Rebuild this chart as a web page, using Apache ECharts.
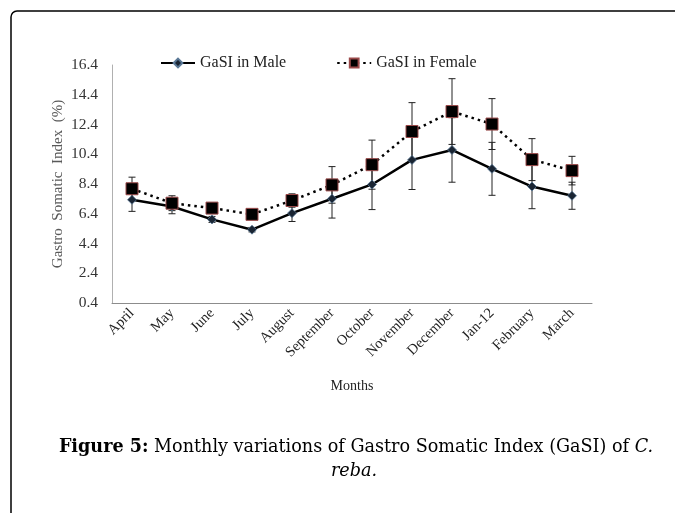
<!DOCTYPE html>
<html>
<head>
<meta charset="utf-8">
<script src="https://cdn.jsdelivr.net/npm/echarts@6/dist/echarts.min.js"></script>
<style>
html,body{margin:0;padding:0;background:#fff;}
#chart{width:675px;height:513px;}
</style>
</head>
<body>
<div id="chart"></div>
<script>
const months = ['April','May','June','July','August','September','October','November','December','Jan-12','February','March'];
const maleValues = [7.34, 6.89, 6.02, 5.33, 6.44, 7.41, 8.37, 10.02, 10.69, 9.42, 8.23, 7.61];
const femaleValues = [8.08, 7.11, 6.78, 6.36, 7.29, 8.34, 9.70, 11.93, 13.27, 12.43, 10.04, 9.30];
const maleErrors = [0.78, 0.49, 0.2, 0.15, 0.56, 1.3, 1.69, 1.99, 2.17, 1.78, 1.49, 0.91];
const femaleErrors = [0.78, 0.5, 0.2, 0.15, 0.45, 1.23, 1.65, 1.94, 2.21, 1.71, 1.41, 0.96];
const yTicks = [0.4, 2.4, 4.4, 6.4, 8.4, 10.4, 12.4, 14.4, 16.4];

const chart = echarts.init(document.getElementById('chart'));
const serif = '"Liberation Serif", "Times New Roman", serif';
const capSerif = '"DejaVu Serif", serif';

function errorSeries(values, errors) {
  return {
    type: 'custom',
    z: 1,
    silent: true,
    data: values.map((v, i) => [i, v - errors[i], v + errors[i]]),
    renderItem: function (params, api) {
      const lo = api.coord([api.value(0), api.value(1)]);
      const hi = api.coord([api.value(0), api.value(2)]);
      const hw = 3.5;
      const style = { stroke: '#222', lineWidth: 1 };
      return {
        type: 'group',
        children: [
          { type: 'line', shape: { x1: lo[0], y1: lo[1], x2: hi[0], y2: hi[1] }, style },
          { type: 'line', shape: { x1: lo[0] - hw, y1: lo[1], x2: lo[0] + hw, y2: lo[1] }, style },
          { type: 'line', shape: { x1: hi[0] - hw, y1: hi[1], x2: hi[0] + hw, y2: hi[1] }, style }
        ]
      };
    }
  };
}

const option = {
  animation: false,
  backgroundColor: '#fff',
  graphic: [
    { type: 'rect', shape: { x: 11, y: 11, width: 720, height: 600, r: 6 }, style: { fill: 'none', stroke: '#000', lineWidth: 1.5 }, z: -10 },
    {
      type: 'text', x: 356, y: 438,
      style: {
        align: 'center',
        rich: {
          b: { fontFamily: capSerif, fontSize: 17.6, fontWeight: 'bold', fill: '#000' },
          n: { fontFamily: capSerif, fontSize: 17.6, fill: '#000' },
          i: { fontFamily: capSerif, fontSize: 17.6, fontStyle: 'italic', fill: '#000' }
        },
        text: '{b|Figure 5:}{n| Monthly variations of Gastro Somatic Index (GaSI) of }{i|C.}'
      }
    },
    {
      type: 'text', x: 354, y: 462,
      style: { align: 'center', text: 'reba.', fontFamily: capSerif, fontSize: 17.6, fontStyle: 'italic', fill: '#000' }
    }
  ],
  legend: {
    top: 50, left: 155,
    itemGap: 50,
    itemWidth: 34, itemHeight: 11,
    textStyle: { fontFamily: serif, fontSize: 16, color: '#222' },
    data: ['GaSI in Male', 'GaSI in Female']
  },
  grid: { left: 112, top: 65, right: 83, bottom: 210 },
  xAxis: {
    type: 'category',
    data: months,
    boundaryGap: true,
    name: 'Months',
    nameLocation: 'middle',
    nameGap: 76,
    nameTextStyle: { fontFamily: serif, fontSize: 14, color: '#222' },
    axisLine: { lineStyle: { color: '#8c8c8c', width: 1 } },
    axisTick: { show: false },
    axisLabel: { rotate: 45, fontFamily: serif, fontSize: 14.5, color: '#222', margin: 8, interval: 0 }
  },
  yAxis: {
    type: 'value',
    min: 0.4, max: 16.4, interval: 2,
    name: 'Gastro  Somatic  Index  (%)',
    nameLocation: 'middle',
    nameGap: 46,
    nameMoveOverlap: false,
    nameTextStyle: { fontFamily: serif, fontSize: 15, color: '#595959' },
    axisLine: { show: true, lineStyle: { color: '#b0b0b0', width: 1 } },
    axisTick: { show: false },
    splitLine: { show: false },
    axisLabel: {
      fontFamily: serif, fontSize: 15.5, color: '#333', margin: 14,
      formatter: v => { const t = yTicks.find(x => Math.abs(x - v) < 1e-6); return t !== undefined ? t.toFixed(1) : ''; }
    }
  },
  series: [
    errorSeries(maleValues, maleErrors),
    errorSeries(femaleValues, femaleErrors),
    {
      name: 'GaSI in Male', type: 'line', z: 3,
      data: maleValues,
      symbol: 'diamond', symbolSize: 9,
      lineStyle: { color: '#000', width: 2.5, type: 'solid' },
      itemStyle: { color: '#1a2533', borderColor: '#5a7896', borderWidth: 0.8 }
    },
    {
      name: 'GaSI in Female', type: 'line', z: 4,
      data: femaleValues,
      symbol: 'rect', symbolSize: 12,
      lineStyle: { color: '#000', width: 2.5, type: [2.5, 4] },
      itemStyle: { color: '#000', borderColor: '#9b4a4a', borderWidth: 1 }
    }
  ]
};
chart.setOption(option);
</script>
</body>
</html>
